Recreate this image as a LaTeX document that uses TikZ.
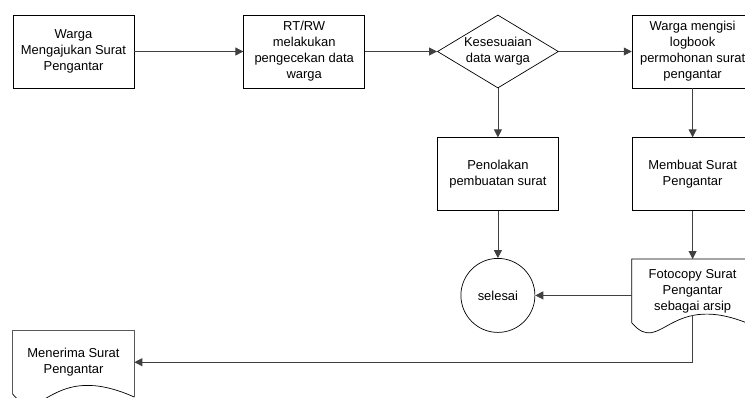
\documentclass[tikz,border=0pt]{standalone}
\usepackage{fontspec}
\setmainfont{Liberation Sans}
\usepackage{tikz}
\usetikzlibrary{shapes.geometric,arrows.meta,positioning}
\tikzstyle{block} = [rectangle, draw, align=center, minimum height=73bp, minimum width=121bp, inner sep=1bp]
\tikzstyle{decision} = [diamond, draw, minimum height=73bp, minimum width=121bp, inner sep=0pt]
\tikzstyle{dokumen} = [rectangle, align=center, minimum height=63bp, minimum width=121bp, inner sep=1bp]
\tikzstyle{ujung} = [circle, draw, minimum size=74bp, inner sep=0pt]
\tikzstyle{garis} = [draw=black!75, line width=0.8bp]

\begin{document}
\begin{tikzpicture}[x=1bp, y=-1bp, >={Triangle[length=8bp,width=8bp]}, line width=0.7bp, font=\fontsize{13}{16}\selectfont]
  \useasboundingbox (0,0) rectangle (745,397);
  % baris atas
  \node[block] (ajukan) at (73.5,51.5) {Warga\\Mengajukan Surat\\Pengantar};
  \node[block] (cek) [right=109bp of ajukan] {RT/RW\\melakukan\\pengecekan data\\warga};
  \node[decision] (sesuai) [right=72bp of cek] {};
  \node[align=center] at (sesuai) {Kesesuaian\\data warga};
  \node[block] (logbook) [right=73bp of sesuai] {Warga mengisi\\logbook\\permohonan surat\\pengantar};
  % baris tengah
  \node[block] (tolak) [below=49bp of sesuai] {Penolakan\\pembuatan surat};
  \node[block] (buat) [below=49bp of logbook] {Membuat Surat\\Pengantar};
  \node[ujung] (selesai) [below=47bp of tolak] {selesai};
  \node[dokumen] (fotocopy) [below=48bp of buat] {Fotocopy Surat\\Pengantar\\sebagai arsip};
  \node[dokumen] (terima) [below=242bp of ajukan] {Menerima Surat\\Pengantar};
  % bentuk dokumen
  \draw ([yshift=-3bp]fotocopy.south east) -- (fotocopy.north east) -- (fotocopy.north west) -- (fotocopy.south west)
    .. controls +(30bp,-35bp) and +(-85bp,38bp) .. coordinate[pos=0.68] (fcbawah) ([yshift=-3bp]fotocopy.south east);
  \draw ([yshift=-3bp]terima.south east) -- (terima.north east) -- (terima.north west) -- (terima.south west)
    .. controls +(30bp,-35bp) and +(-85bp,38bp) .. ([yshift=-3bp]terima.south east);
  % panah
  \draw[garis,->] (ajukan) -- (cek);
  \draw[garis,->] (cek) -- (sesuai);
  \draw[garis,->] (sesuai) -- (logbook);
  \draw[garis,->] (sesuai) -- (tolak);
  \draw[garis,->] (logbook) -- (buat);
  \draw[garis,->] (tolak) -- (selesai);
  \draw[garis,->] (buat) -- (fotocopy);
  \draw[garis,->] (fotocopy.west |- selesai) -- (selesai);
  \draw[garis,->] (fcbawah) |- (terima);
\end{tikzpicture}
\end{document}
